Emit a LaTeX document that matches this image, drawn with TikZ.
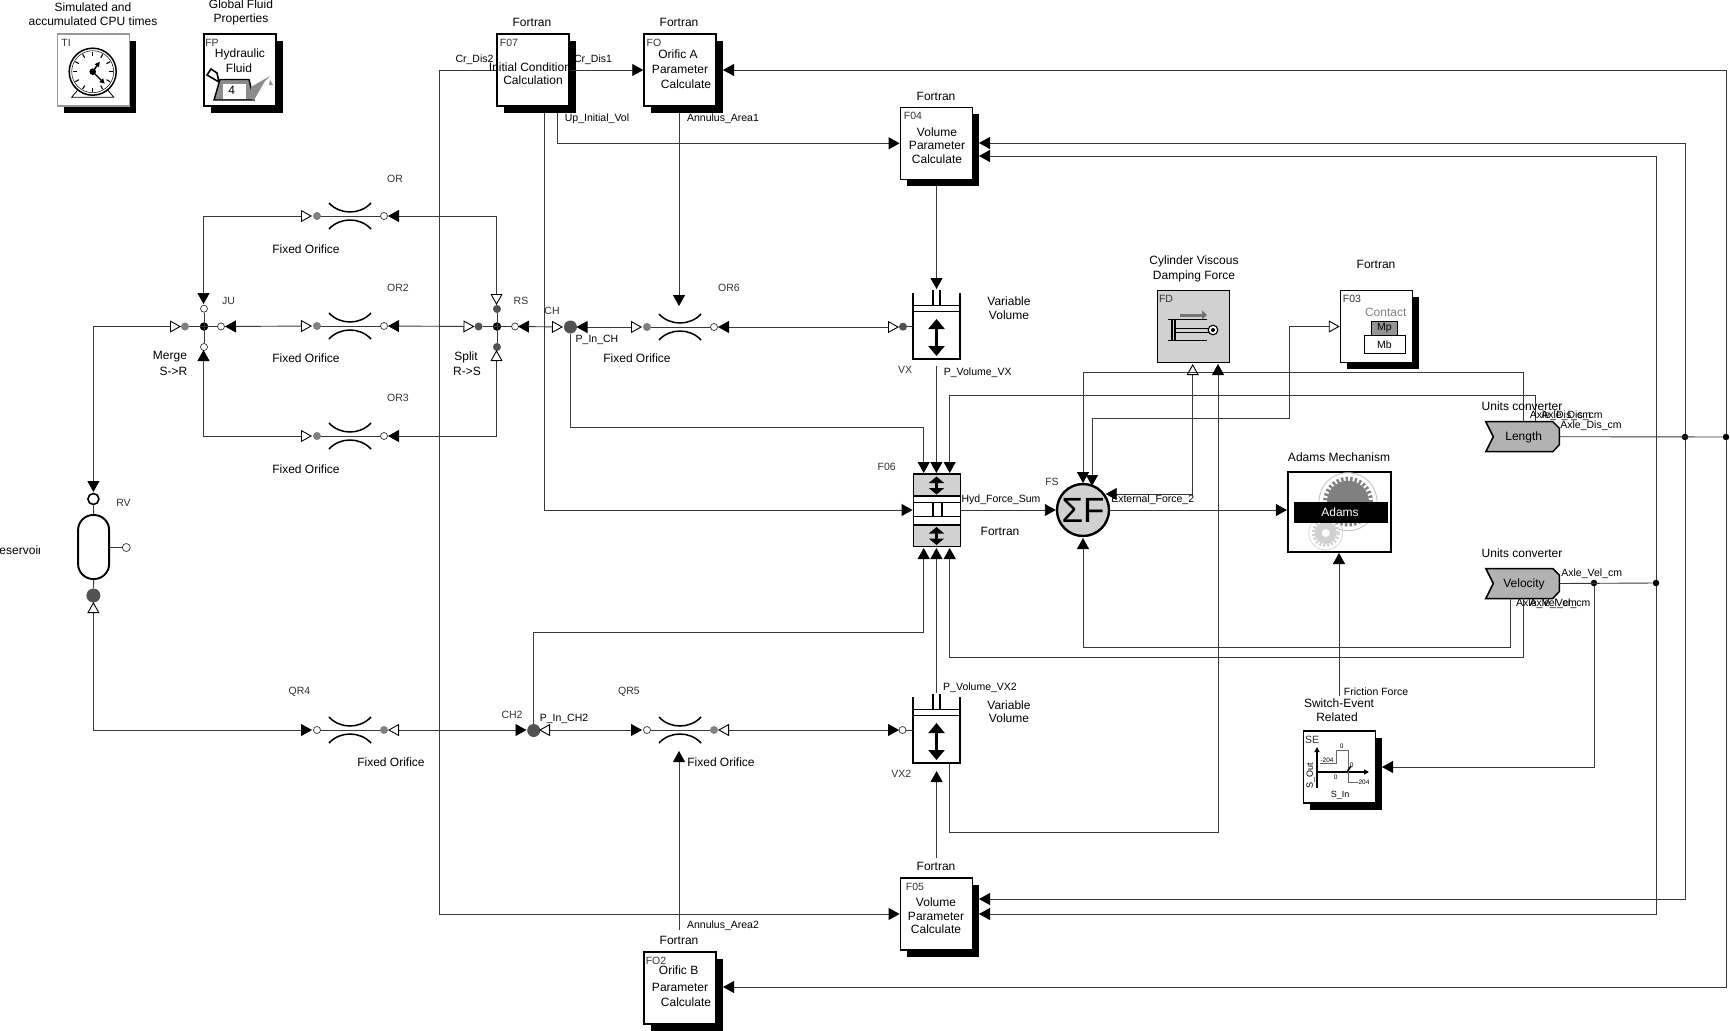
\documentclass[tikz,border=0pt]{standalone}
\usepackage{fontspec}
\setmainfont{Liberation Sans}
\usetikzlibrary{arrows.meta, positioning, shadows, calc}
\newcommand{\sizeof}[1]{\fontsize{#1}{#1}\selectfont}
\tikzset{
    ft/.tip={Triangle[length=11pt,width=12pt,color=black]},
    ot/.tip={Triangle[open,length=11pt,width=12pt,color=black]},
    wire/.style={line width=0.9pt,color=black!78},
    bigarrow/.style={line width=2.6pt,{Triangle[length=10pt,width=16pt]}-{Triangle[length=10pt,width=16pt]}},
    smallarrow/.style={line width=3pt,{Triangle[length=6.5pt,width=15pt]}-{Triangle[length=6.5pt,width=15pt]}},
    shadowed/.style={drop shadow={shadow xshift=6.5pt,shadow yshift=-6.5pt,fill=black,opacity=1}},
    fbox/.style={draw,fill=white,line width=1.5pt,minimum width=72pt,minimum height=72pt,inner sep=0pt,shadowed},
    lbl/.style={inner sep=0pt,font=\sizeof{12}},
    tag/.style={inner sep=0pt,font=\sizeof{10.5}},
    idt/.style={inner sep=0pt,font=\sizeof{10.5},text=black!80},
    tiny/.style={inner sep=0pt,font=\sizeof{6.5}},
    gdot/.style={circle,fill=black!50,inner sep=0pt,minimum size=8pt},
    ddot/.style={circle,fill=black!68,inner sep=0pt,minimum size=8pt},
    odot/.style={circle,draw=black!80,fill=white,line width=0.7pt,inner sep=0pt,minimum size=7pt},
    jdot/.style={circle,fill=black,inner sep=0pt,minimum size=8.5pt},
    raildot/.style={circle,fill=black,inner sep=0pt,minimum size=6.5pt},
    bdot/.style={circle,fill=black!68,inner sep=0pt,minimum size=13pt},
    pics/orif/.style 2 args={code={
        \draw[wire] (-33,0) -- (34,0);
        \draw[line width=1.5pt] (-21,-13) .. controls (-10,-1) and (10,-1) .. (21,-13);
        \draw[line width=1.5pt] (-21,13) .. controls (-10,1) and (10,1) .. (21,13);
        \coordinate (-l) at (-38,0);
        \coordinate (-r) at (38,0);
        \node[#1] (-a) at (-33,0) {};
        \node[#2] (-b) at (34,0) {};
    }},
    pics/vvol/.style={code={
        \draw[line width=1.3pt] (-23.5,0) -- (-23.5,66) -- (23.5,66) -- (23.5,0);
        \draw[line width=1.3pt] (-23.5,12.5) -- (23.5,12.5);
        \draw[line width=1.3pt] (-23.5,18.5) -- (23.5,18.5);
        \draw[line width=1.1pt] (-3.5,-3) -- (-3.5,12.5);
        \draw[line width=1.1pt] (3.5,-3) -- (3.5,12.5);
        \draw[bigarrow] (0,26) -- (0,63);
    }},
    pics/chevron/.style={code={
        \draw[fill=black!30,line width=1.5pt] (-37,-15) -- (30,-15) -- (36.5,-8.5) -- (36.5,8) -- (30,15) -- (-37,15) -- (-29.5,0) -- cycle;
        \coordinate (-r) at (36.5,0);
    }},
}

\begin{document}
\begin{tikzpicture}[x=1pt,y=-1pt]
    \useasboundingbox[fill=white] (0,0) rectangle (1730,1031);

    % boxes
    \node[fbox,draw=black!40] (TI) at (93.5,70) {};
    \node[fbox] (FP) at (240,70) {};
    \node[fbox] (F07) at (533,70) {};
    \node[fbox] (FO) at (680,70) {};
    \node[fbox] (F04) at (936.3,143.3) {};
    \node[fbox] (F05) at (936.3,914) {};
    \node[fbox] (FO2) at (680,988) {};
    \node[fbox] (F03) at (1376.5,326.5) {};
    \node[fbox] (SE) at (1339.5,767) {};
    \node[draw,fill=black!18,line width=1.5pt,minimum width=72pt,minimum height=72pt] (FD) at (1193.7,326.5) {};
    \node[draw,fill=white,line width=2.2pt,minimum width=103pt,minimum height=80pt] (Adams) at (1339.5,511.7) {};
    \node[draw,fill=white,line width=1.5pt,minimum width=47pt,minimum height=72pt] (F06) at (936.8,510) {};

    % clock
    \begin{scope}[shift={(92.7,71.7)}]
        \draw[line width=0.8pt] (-21,25.5) -- (-13,16) -- (13,16) -- (21,25.5) -- cycle;
        \draw[fill=white,line width=1.5pt] (0,0) circle (23.5);
        \draw[line width=0.5pt] (0,0) circle (21);
        \foreach \a in {0,30,...,330}
            \draw[line width=1.1pt] (\a:16) -- (\a:20);
        \draw[line width=1.4pt,-{Triangle[length=5pt,width=5pt]}] (0,0) -- (7,-10);
        \draw[line width=1.4pt,-{Triangle[length=5pt,width=5pt]}] (0,0) -- (12,12);
        \fill (0,0) circle (3.3);
    \end{scope}

    % watering can
    \draw[line width=1.6pt] (207,75) -- (211,69) -- (217,73) -- (219,82) -- cycle;
    \draw[fill=black!45,line width=1.4pt] (220,79.5) -- (249,79.5) -- (254,100) -- (214,100) -- cycle;
    \fill[white] (223,84) rectangle (246,99);
    \fill[black!45] (251,99) -- (251,87) -- (270,76) -- (265,81) -- (254,100) -- cycle;
    \fill[black!45] (270,80) -- (273,85) -- (269,85) -- cycle;

    % cylinder icon
    \draw[black!55,line width=3pt,-{Triangle[length=5pt,width=9pt]}] (1180,315) -- (1207,315);
    \draw[line width=1.6pt] (1168,319.5) -- (1207,319.5);
    \draw[line width=1.6pt] (1168,340.5) -- (1207,340.5);
    \draw[line width=1.3pt] (1172,319.5) -- (1172,340.5);
    \draw[line width=1.1pt] (1175,319.5) -- (1175,340.5);
    \draw[line width=0.9pt] (1175,328) -- (1209,328);
    \draw[line width=0.9pt] (1175,332) -- (1209,332);
    \draw[line width=1.1pt,fill=white] (1213,330) circle (4.8);
    \fill (1213,330) circle (2);

    % contact icon
    \draw[fill=white,line width=0.6pt] (1364,335) rectangle (1405.7,353.7);
    \draw[fill=black!42,line width=0.6pt] (1371.7,321) rectangle (1397,335);

    % adams icon
    \fill[black!50] (1348,501.7) circle (21);
    \draw[black!50,line width=4pt,dash pattern=on 2.4pt off 2.2pt] (1348,501.7) circle (23);
    \draw[black!25,line width=0.8pt] (1348,501.7) circle (29);
    \fill[black!18] (1325.7,533) circle (11);
    \draw[black!18,line width=3pt,dash pattern=on 2pt off 2pt] (1325.7,533) circle (12.5);
    \fill[white] (1325.7,533) circle (4);
    \draw[black!18,line width=0.7pt] (1325.7,533) circle (17);
    \fill[black] (1294,501.7) rectangle (1388,523.3);

    % F06 details
    \fill[black!18] (913.5,474.8) rectangle (960.2,496);
    \fill[black!18] (913.5,525) rectangle (960.2,546.2);
    \foreach \ya in {496,502.7,516.7,525}
        \draw[line width=1.3pt] (913,\ya) -- (960.6,\ya);
    \draw[line width=1.3pt] (933,502.7) -- (933,516.7);
    \draw[line width=1.3pt] (942,502.7) -- (942,516.7);
    \draw[smallarrow] (936.5,476.5) -- (936.5,494.5);
    \draw[smallarrow] (936.5,527) -- (936.5,545);

    % switch icon
    \draw[line width=1.1pt,-{Triangle[length=5pt,width=5pt]}] (1317,788) -- (1317,747);
    \draw[line width=1.1pt,-{Triangle[length=5pt,width=5pt]}] (1317,772) -- (1369,772);
    \draw[black!60,line width=0.8pt] (1320,763) -- (1336.7,763) -- (1336.7,750.7) -- (1348,750.7) -- (1348,782) -- (1358,782);
    \draw[line width=1.5pt] (1347,772) -- (1351,766);

    % volumes, orifices
    \pic (VX) at (936.5,293) {vvol};
    \pic (VXb) at (936.5,697) {vvol};
    \pic (OR) at (350,216) {orif={gdot}{odot}};
    \pic (ORb) at (350,326) {orif={gdot}{odot}};
    \pic (ORc) at (350,436) {orif={gdot}{odot}};
    \pic (ORd) at (350,730) {orif={odot}{gdot}};
    \pic (ORe) at (680,730) {orif={odot}{gdot}};
    \pic (ORf) at (680,327) {orif={gdot}{odot}};

    % junctions
    \node[jdot] (JU) at (204,326.5) {};
    \node[odot] (juN) at (204,308.7) {};
    \node[odot] (juS) at (204,347) {};
    \node[gdot] (juW) at (185,326.5) {};
    \node[odot] (juE) at (221,326.5) {};
    \node[jdot] (RS) at (497,326.5) {};
    \node[ddot] (rsN) at (497,309) {};
    \node[ddot] (rsS) at (497,347) {};
    \node[ddot] (rsW) at (478.6,326.5) {};
    \node[odot] (rsE) at (515,326.5) {};
    \node[bdot] (CH) at (570.4,327) {};
    \node[bdot] (CHb) at (533.7,730.5) {};
    \node[ddot] (vxW) at (903,326.7) {};
    \node[odot] (vxbW) at (902.5,730) {};
    \node[raildot] (railA) at (1685,437) {};
    \node[raildot] (railB) at (1726,437) {};
    \node[raildot] (railC) at (1594,583) {};
    \node[raildot] (railD) at (1656,583) {};

    % reservoir
    \node[draw,fill=white,line width=1.9pt,rounded corners=15pt,minimum width=31pt,minimum height=64pt] (RV) at (93.6,547) {};
    \node[circle,draw,fill=white,line width=1.6pt,inner sep=0pt,minimum size=11pt] (rvN) at (93.4,499) {};
    \node[odot,minimum size=8pt] (rvE) at (126.3,547.5) {};
    \node[circle,fill=black!68,inner sep=0pt,minimum size=14pt] (rvS) at (93.4,595.5) {};

    % converters
    \pic (lenS) at (1522.8,436.7) {chevron};
    \pic (velS) at (1522.8,583.5) {chevron};
    \node[lbl] (Length) at (1523.7,437) {Length};
    \node[lbl] (Velocity) at (1524,584) {Velocity};

    % summing point
    \node[circle,draw,fill=black!18,line width=2.4pt,inner sep=0pt,minimum size=52pt,font=\sizeof{35}] (FS) at (1083,510) {ΣF};

    % ports
    \foreach \n/\x/\y in {FOin/723/70, FObin/723/987, Fdin/979/143, Fdjn/979/156, Feia/979/899, Feib/979/914, SEin/1382/767,
        lenA/1523/421, lenB/1535.7/421, velA/1510/598, velB/1523/598, fsTa/1083/483, fsTb/1092/486, fsR/1105.7/494, fsB/1083/538,
        stTa/923.7/473, stTb/936.4/473, stTc/949.7/473, stBa/923.7/548, stBb/936.4/548, stBc/949.7/548,
        cvA/557.6/113, cvB/544/113, foS/679/113, orfT/679/306, fdS/936.5/186, vxT/936.5/289, vxB/936.4/366, vxbT/936.4/693,
        vxbS/936.6/771, fefN/936.6/858, vxbC/949/764, fdB/1218/364, fdO/1192.7/364, adS/1339/553, seN/1339/696,
        oreB/679/751, fobN/679/930, juT/203.5/304, juB/203.5/350, rsT/496.5/305, rsB/496.5/350, rsR/518/326.5, rsL/474.5/326.5,
        juR/225/326.5, juL/181/326.5, chL/563/327, chR/576.5/327, vxL/899/327, rvT/93.4/492, rvB/93.4/602, cbL/526.5/730, cbR/539/730, vbL/899/730}
        \coordinate (\n) at (\x,\y);

    % connectors
    \draw[wire,-ft] (F07.west) -- ++(-57,0) |- (F05.west);
    \draw[wire,-ft] (F07.east) -- (FO.west);
    \draw[wire] (lenS-r) -- (railB);
    \draw[wire] (velS-r) -- (railD);
    \draw[wire,-ft] (railB) |- (FOin);
    \draw[wire,-ft] (railB) |- (FObin);
    \draw[wire,-ft] (railA) |- (Fdin);
    \draw[wire,-ft] (railA) |- (Feia);
    \draw[wire,-ft] (railD) |- (Fdjn);
    \draw[wire,-ft] (railD) |- (Feib);
    \draw[wire,-ft] (railC) |- (SEin);
    \draw[wire,-ft] (lenA) -- ++(0,-49) -| (fsTa);
    \draw[wire,-ft] (lenB) -- ++(0,-26) -| (stTc);
    \draw[wire,-ft] (velA) -- ++(0,49.6) -| (fsB);
    \draw[wire,-ft] (velB) -- ++(0,59) -| (stBc);
    \draw[wire,-ft] (CH) -- ++(0,100.7) -| (stTa);
    \draw[wire,-ft] (cvB) |- (F06.west);
    \draw[wire,-ft] (cvA) |- (F04.west);
    \draw[wire,-ft] (foS) -- (orfT);
    \draw[wire,-ft] (fdS) -- (vxT);
    \draw[wire,-ft] (vxB) -- (stTb);
    \draw[wire,-ft] (vxbT) -- (stBb);
    \draw[wire,-ft] (CHb) -- ++(0,-98.5) -| (stBa);
    \draw[wire,-ft] (fefN) -- (vxbS);
    \draw[wire,-ft] (vxbC) -- ++(0,68) -| (fdB);
    \draw[wire,ft-ot] (fsR) -| (fdO);
    \draw[wire,ot-ft] (F03.west) -- ++(-50.7,0) -- ++(0,91.5) -| (fsTb);
    \draw[wire,-ft] (F06.east) -- (FS.west);
    \draw[wire,-ft] (FS.east) -- (FS.east -| Adams.west);
    \draw[wire,-ft] (seN) -- (adS);
    \draw[wire,-ft] (fobN) -- (oreB);
    \draw[wire,ot-ft] (OR-l) -| (juT);
    \draw[wire,ft-ot] (OR-r) -| (rsT);
    \draw[wire,ot-ft] (ORc-l) -| (juB);
    \draw[wire,ft-ot] (ORc-r) -| (rsB);
    \draw[wire,ot-ft] (ORb-l) -- (juR);
    \draw[wire,ft-ot] (ORb-r) -- (rsL);
    \draw[wire,ft-ot] (rsR) -- (chL);
    \draw[wire,ft-ot] (chR) -- (ORf-l);
    \draw[wire,ft-ot] (ORf-r) -- (vxL);
    \draw[wire,ot-ft] (juL) -| (rvT);
    \draw[wire,ot-ft] (rvB) |- (ORd-l);
    \draw[wire,ot-ft] (ORd-r) -- (cbL);
    \draw[wire,ot-ft] (cbR) -- (ORe-l);
    \draw[wire,ot-ft] (ORe-r) -- (vbL);
    \draw[wire] (juW) -- (juE);
    \draw[wire] (juN) -- (juS);
    \draw[wire] (rsW) -- (rsE);
    \draw[wire] (rsN) -- (rsS);
    \draw[wire] (vxW) -- ++(10,0);
    \draw[wire] (vxbW) -- ++(10,0);
    \draw[wire] (rvN) -- (RV.north);
    \draw[wire] (RV.east |- rvE) -- (rvE);
    \draw[wire] (RV.south) -- (rvS);

    % texts
    \foreach \x/\y/\t [count=\i] in {93/7/Simulated and, 93/21/accumulated CPU times, 241/4/Global Fluid, 241/19/Properties,
        240/54/Hydraulic, 239/68/Fluid, 532/22/Fortran, 679/22/Fortran, 530/67/Initial Condition, 533/80/Calculation,
        678/54/Orific A, 680/69/Parameter, 686/84/Calculate, 936/96/Fortran, 937/132/Volume, 937/145/Parameter, 937/159/Calculate,
        306/249/Fixed Orifice, 306/358/Fixed Orifice, 306/469/Fixed Orifice, 637/358/Fixed Orifice, 391/762/Fixed Orifice, 721/762/Fixed Orifice,
        170/357/Merge, 173.5/371/S->R, 466/357/Split, 467/371/R->S, 1009/301/Variable, 1009/315/Volume, 1009/705/Variable, 1009/718/Volume,
        1194/261/Cylinder Viscous, 1194/276/Damping Force, 1376/264/Fortran, 1000/531/Fortran, 1339/457/Adams Mechanism,
        1522/406/Units converter, 1522/553/Units converter, 1339/703/Switch-Event, 1337/717/Related, 936/866/Fortran,
        936/902/Volume, 936/916/Parameter, 936/929/Calculate, 679/940/Fortran, 678.6/970/Orific B, 680/987/Parameter, 686/1002/Calculate}
        \node[lbl] (lb\i) at (\x,\y) {\t};
    \foreach \x/\y/\t [count=\i] in {474.5/60/Cr\_Dis2, 593/60/Cr\_Dis1, 597/119/Up\_Initial\_Vol, 723/119/Annulus\_Area1, 597/340/P\_In\_CH,
        977.7/373/P\_Volume\_VX, 1001/500/Hyd\_Force\_Sum, 1152.7/500/External\_Force\_2, 1376/692/Friction Force, 723/926/Annulus\_Area2,
        564/719/P\_In\_CH2, 980/688/P\_Volume\_VX2, 1560.5/416/Axle\_Dis\_cm, 1572/416/Axle\_Dis\_cm, 1591/426/Axle\_Dis\_cm,
        1591.7/574/Axle\_Vel\_cm, 1546.5/604/Axle\_Vel\_cm, 1560/604/Axle\_Vel\_cm}
        \node[tag] (tg\i) at (\x,\y) {\t};
    \foreach \x/\y/\t [count=\i] in {66/43/TI, 212/43/FP, 509/43/F07, 654/43/FO, 913/116/F04, 656/961/FO2, 915/887/F05, 1166/299/FD, 1352/299/F03, 1312/740/SE,
        395/179/OR, 398/288/OR2, 398/398/OR3, 729/288/OR6, 299.5/692/QR4, 629/692/QR5, 228.6/301/JU, 521/301/RS, 552/311/CH, 512/715/CH2,
        123.5/503/RV, 905/370/VX, 901.4/774/VX2, 886.7/467/F06, 1052/482/FS}
        \node[idt] (id\i) at (\x,\y) {\t};

    \node[lbl] (canNum) at (231.7,90.7) {4};
    \node[lbl,text=black!50] (contactLbl) at (1385.7,312) {Contact};
    \node[tag] (mpLbl) at (1384.3,328) {Mp};
    \node[tag] (mbLbl) at (1384.5,345) {Mb};
    \node[lbl,text=white] (adamsLbl) at (1340,512) {Adams};
    \node[tiny] (sea) at (1327,760) {-204};
    \node[tiny] (seb) at (1341.7,746) {0};
    \node[tiny] (sec) at (1335.7,777) {0};
    \node[tiny] (sed) at (1351.7,765) {0};
    \node[tiny] (see) at (1364,782) {204};
    \node[tag,font=\sizeof{9},rotate=90] (seOut) at (1310.7,776) {S\_Out};
    \node[tag,font=\sizeof{9}] (seIn) at (1340,795) {S\_In};

    \begin{scope}
        \clip (0,530) rectangle (39,570);
        \node[lbl] (rvLbl) at (16.5,550) {Reservoir};
    \end{scope}
\end{tikzpicture}
\end{document}
